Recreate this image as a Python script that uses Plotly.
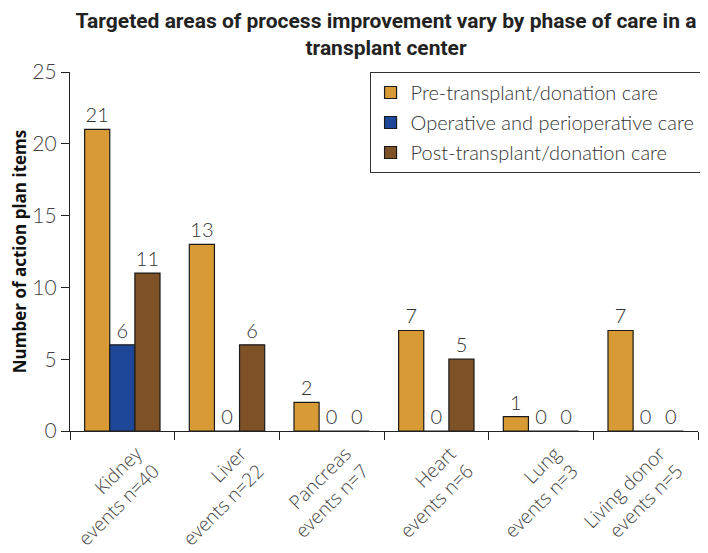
import plotly.graph_objects as go

categories = ["Kidney<br>events n=40", "Liver<br>events n=22", "Pancreas<br>events n=7",
              "Heart<br>events n=6", "Lung<br>events n=3", "Living donor<br>events n=5"]
pre = [21, 13, 2, 7, 1, 7]
operative = [6, 0, 0, 0, 0, 0]
post = [11, 6, 0, 5, 0, 0]
series_names = ["Pre-transplant/donation care", "Operative and perioperative care",
                "Post-transplant/donation care"]
colors = ["#D89A35", "#1F4799", "#7E5127"]

fig = go.Figure()
for i, (name, vals, col) in enumerate(zip(series_names, [pre, operative, post], colors)):
    fig.add_trace(go.Bar(
        x=categories, y=vals, name=name, legendgroup=f"g{i}",
        marker=dict(color=col, line=dict(color="#1a1a1a", width=1.2)),
        text=[str(v) for v in vals], textposition="outside", cliponaxis=False,
        textfont=dict(family="Lato", size=20, color="#333333", weight=300),
    ))

fig.update_layout(
    width=700, height=545,
    barmode="group", bargap=0.28, bargroupgap=0,
    plot_bgcolor="white", paper_bgcolor="white",
    margin=dict(l=62, r=10, t=64, b=122, autoexpand=False),
    title=dict(text="<b>Targeted areas of process improvement vary by phase of care in a<br>transplant center</b>",
               x=0.54, xanchor="center", yref="container", y=0.963, yanchor="middle",
               font=dict(family="Roboto", size=21, color="#222222")),
    legend=dict(x=0.477, y=1.0, xanchor="left", yanchor="top",
                bordercolor="#333333", borderwidth=1, bgcolor="white",
                font=dict(family="Lato", size=20, color="#333333", weight=300),
                itemwidth=30, tracegroupgap=1),
    font=dict(family="Lato", color="#333333"),
)
fig.update_yaxes(range=[0, 25], tickvals=[0, 5, 10, 15, 20, 25], automargin=False,
                 showline=True, linecolor="#222222", linewidth=1.3,
                 ticks="outside", ticklen=8, tickcolor="#222222", showgrid=False, zeroline=False,
                 tickfont=dict(family="Lato", size=21, color="#444444", weight=300),
                 title=dict(text="<b>Number of action plan items</b>", standoff=19,
                            font=dict(family="Open Sans", size=17, color="#111111")))
fig.update_xaxes(showline=True, linecolor="#222222", linewidth=1.3, automargin=False,
                 ticks="outside", ticklen=8, tickcolor="#222222", tickson="boundaries",
                 tickangle=-45, showgrid=False, ticklabelshift=14, ticklabelstandoff=3,
                 tickfont=dict(family="Open Sans", size=19, color="#444444", weight=300))

fig.write_html("out.html")
